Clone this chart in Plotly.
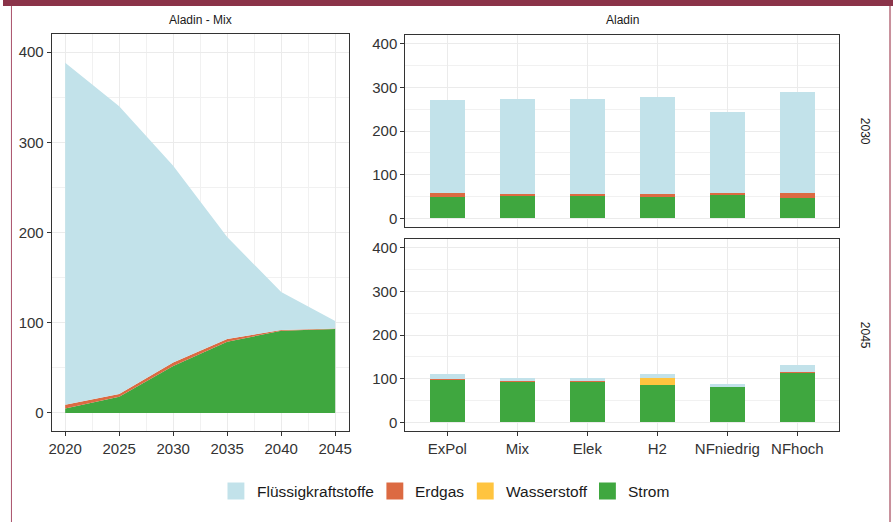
import plotly.graph_objects as go

# ---- data -------------------------------------------------------------
carriers = ["Flüssigkraftstoffe", "Erdgas", "Wasserstoff", "Strom"]
carrier_colors = ["#C2E2EA", "#DC6A42", "#FFC43F", "#3FA73F"]

years = [2020, 2025, 2030, 2035, 2040, 2045]
mix_strom = [5, 18, 52, 79, 91, 93]
mix_wasserstoff = [0, 0, 0, 0, 0, 0]
mix_erdgas = [4, 3, 4, 3, 1, 0.5]
mix_fluessig = [379, 319, 218, 113, 42, 8.5]

scenarios = ["ExPol", "Mix", "Elek", "H2", "NFniedrig", "NFhoch"]

strom_2030 = [48.6, 52, 51, 48.6, 53, 46]
wasserstoff_2030 = [0, 0, 0, 0, 0, 0]
erdgas_2030 = [8.4, 4, 5, 6, 5.4, 11]
fluessig_2030 = [213, 218, 218, 224, 186, 232]

strom_2045 = [99, 93, 93, 86, 82.6, 114.4]
wasserstoff_2045 = [0, 0, 0, 16, 0, 0]
erdgas_2045 = [1, 0.5, 0.5, 0, 0.4, 1.6]
fluessig_2045 = [10, 8.5, 8.5, 8.6, 4, 15]

y_ticks = [0, 100, 200, 300, 400]
x_year_ticks = [2020, 2025, 2030, 2035, 2040, 2045]

# ---- layout helpers ---------------------------------------------------
W, H = 896, 522
FONT = "Liberation Sans, Arial, sans-serif"
TXT = "#333333"
GRID = "#EBEBEB"
GRID_MINOR = "#F1F1F1"


def px_x(v):
    return v / W


def px_y(v):
    return 1 - v / H


fig = go.Figure()

color_of = dict(zip(carriers, carrier_colors))

# stacked areas (bottom to top: Strom, Wasserstoff, Erdgas, Flüssigkraftstoffe)
area_series = [
    ("Strom", mix_strom),
    ("Wasserstoff", mix_wasserstoff),
    ("Erdgas", mix_erdgas),
    ("Flüssigkraftstoffe", mix_fluessig),
]
for name, vals in area_series:
    fig.add_trace(go.Scatter(
        x=years, y=vals, name=name, mode="lines",
        stackgroup="mix", line=dict(width=0, color=color_of[name]),
        fillcolor=color_of[name], showlegend=False,
        xaxis="x", yaxis="y",
    ))

# stacked bars per scenario, one panel per year
bar_sets = [
    ("x2", "y2", [("Strom", strom_2030), ("Wasserstoff", wasserstoff_2030),
                  ("Erdgas", erdgas_2030), ("Flüssigkraftstoffe", fluessig_2030)]),
    ("x3", "y3", [("Strom", strom_2045), ("Wasserstoff", wasserstoff_2045),
                  ("Erdgas", erdgas_2045), ("Flüssigkraftstoffe", fluessig_2045)]),
]
for xa, ya, series in bar_sets:
    for name, vals in series:
        fig.add_trace(go.Bar(
            x=scenarios, y=vals, name=name, width=0.5,
            marker=dict(color=color_of[name], line=dict(width=0)),
            showlegend=False, xaxis=xa, yaxis=ya,
        ))

# panel geometry (pixels)
left_x = (49, 348)
left_y = (34, 431)
right_x = (405, 842)
top_y = (35, 227)
bot_y = (239, 431)

axis_common = dict(
    showline=True, mirror=True, linecolor="#333333", linewidth=1,
    ticks="outside", ticklen=4, tickcolor="#333333", tickwidth=1,
    tickfont=dict(family=FONT, size=15, color=TXT),
    showgrid=True, gridcolor=GRID, gridwidth=1.4, zeroline=False,
)
y_common = dict(axis_common, range=[-20, 420], tickvals=y_ticks,
                minor=dict(dtick=50, showgrid=True, gridcolor=GRID_MINOR,
                           gridwidth=0.8, ticks=""))

fig.update_layout(
    width=W, height=H, autosize=False,
    margin=dict(l=0, r=0, t=0, b=0),
    paper_bgcolor="white", plot_bgcolor="white",
    barmode="stack", bargap=0.5,
    showlegend=False,
    xaxis=dict(axis_common, domain=[px_x(left_x[0]), px_x(left_x[1])],
               anchor="y", range=[2018.75, 2046.25], tickvals=x_year_ticks,
               minor=dict(dtick=2.5, tick0=2020, showgrid=True,
                          gridcolor=GRID_MINOR, gridwidth=0.8, ticks="")),
    yaxis=dict(y_common, domain=[px_y(left_y[1]), px_y(left_y[0])], anchor="x"),
    xaxis2=dict(axis_common, domain=[px_x(right_x[0]), px_x(right_x[1])],
                anchor="y2", range=[-0.6, 5.6], type="category",
                categoryorder="array", categoryarray=scenarios,
                showticklabels=False, ticks=""),
    yaxis2=dict(y_common, domain=[px_y(top_y[1]), px_y(top_y[0])], anchor="x2"),
    xaxis3=dict(axis_common, domain=[px_x(right_x[0]), px_x(right_x[1])],
                anchor="y3", range=[-0.6, 5.6], type="category",
                categoryorder="array", categoryarray=scenarios),
    yaxis3=dict(y_common, domain=[px_y(bot_y[1]), px_y(bot_y[0])], anchor="x3"),
)

annotations = []
shapes = []

# strip labels
strip_font = dict(family=FONT, size=12, color="#1A1A1A")
annotations.append(dict(text="Aladin - Mix", x=px_x((left_x[0] + left_x[1]) / 2),
                        y=px_y(20), xref="paper", yref="paper",
                        xanchor="center", yanchor="middle",
                        showarrow=False, font=strip_font))
annotations.append(dict(text="Aladin", x=px_x((right_x[0] + right_x[1]) / 2),
                        y=px_y(20), xref="paper", yref="paper",
                        xanchor="center", yanchor="middle",
                        showarrow=False, font=strip_font))
annotations.append(dict(text="2030", x=px_x(868), y=px_y((top_y[0] + top_y[1]) / 2),
                        xref="paper", yref="paper", showarrow=False,
                        xanchor="center", yanchor="middle",
                        textangle=90, font=strip_font))
annotations.append(dict(text="2045", x=px_x(868), y=px_y((bot_y[0] + bot_y[1]) / 2),
                        xref="paper", yref="paper", showarrow=False,
                        xanchor="center", yanchor="middle",
                        textangle=90, font=strip_font))

# legend along the bottom
legend_items = [(226, 256), (386, 415), (477, 506), (600, 629)]
for (sq_x, tx_x), name, col in zip(legend_items, carriers, carrier_colors):
    shapes.append(dict(type="rect", xref="paper", yref="paper",
                       x0=px_x(sq_x), x1=px_x(sq_x + 17),
                       y0=px_y(499.5), y1=px_y(482.5),
                       fillcolor=col, line=dict(width=0)))
    annotations.append(dict(text=name, x=px_x(tx_x - 2), y=px_y(491),
                            xref="paper", yref="paper",
                            xanchor="left", yanchor="middle",
                            showarrow=False,
                            font=dict(family=FONT, size=15.5, color="#1A1A1A")))

# page frame
shapes.append(dict(type="rect", xref="paper", yref="paper",
                   x0=0, x1=1, y0=px_y(6), y1=1,
                   fillcolor="#8B3349", line=dict(width=0)))
shapes.append(dict(type="line", xref="paper", yref="paper",
                   x0=px_x(8.5), x1=px_x(8.5), y0=0, y1=px_y(6),
                   line=dict(color="#A8506A", width=1)))
shapes.append(dict(type="line", xref="paper", yref="paper",
                   x0=px_x(893), x1=px_x(893), y0=0, y1=px_y(6),
                   line=dict(color="#C8909C", width=2)))

fig.update_layout(annotations=annotations, shapes=shapes)

fig.write_html("out.html")
